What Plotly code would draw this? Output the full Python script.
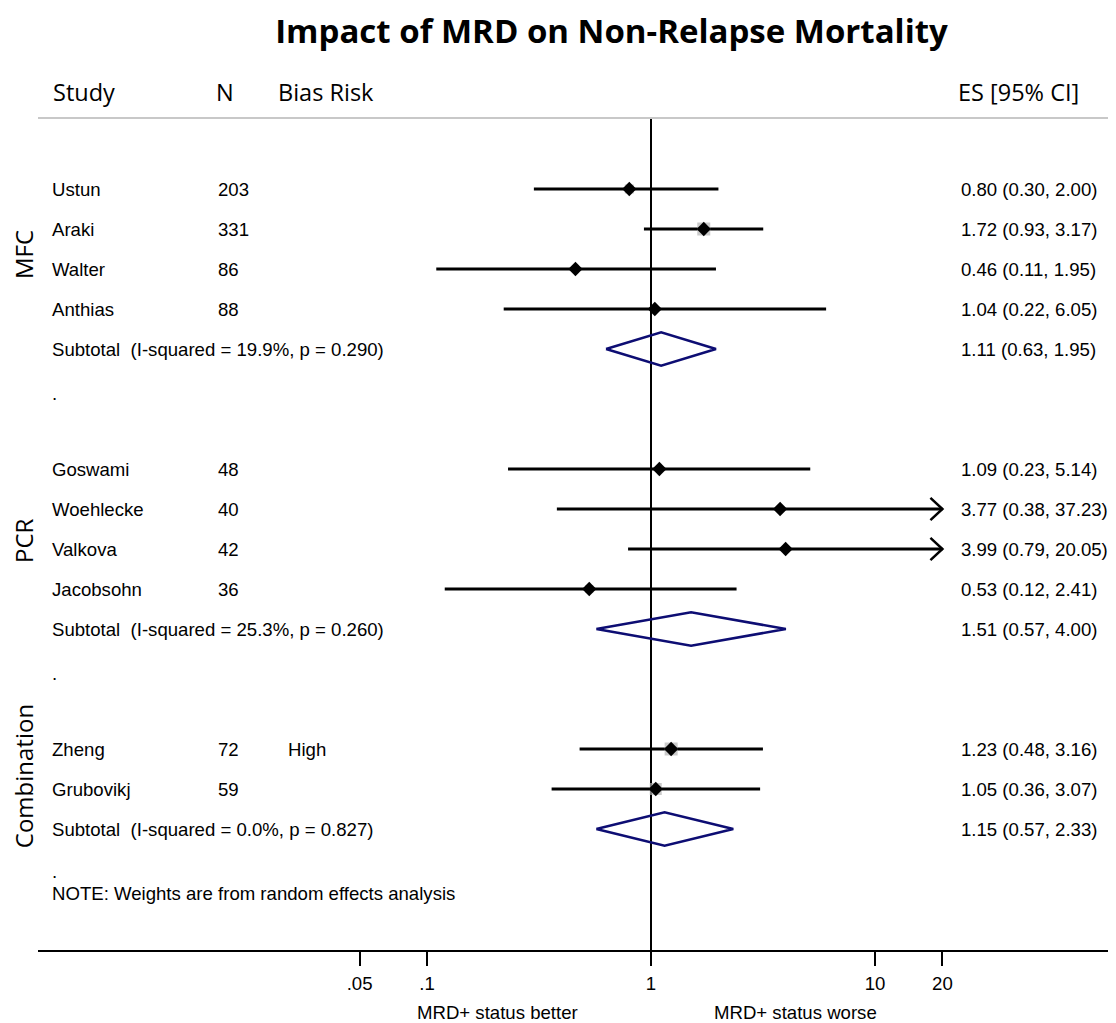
import plotly.graph_objects as go

# ---------------- data ----------------
studies = ["Ustun", "Araki", "Walter", "Anthias", "Goswami", "Woehlecke",
           "Valkova", "Jacobsohn", "Zheng", "Grubovikj"]
n_pat = [203, 331, 86, 88, 48, 40, 42, 36, 72, 59]
bias = ["", "", "", "", "", "", "", "", "High", ""]
es = [0.80, 1.72, 0.46, 1.04, 1.09, 3.77, 3.99, 0.53, 1.23, 1.05]
lo = [0.30, 0.93, 0.11, 0.22, 0.23, 0.38, 0.79, 0.12, 0.48, 0.36]
hi = [2.00, 3.17, 1.95, 6.05, 5.14, 37.23, 20.05, 2.41, 3.16, 3.07]
box_w = [9, 13, 5, 6, 6, 5, 6, 8, 13, 12]

groups = ["MFC", "PCR", "Combination"]
sub_es = [1.11, 1.51, 1.15]
sub_lo = [0.63, 0.57, 0.57]
sub_hi = [1.95, 4.00, 2.33]
sub_i2 = ["19.9%", "25.3%", "0.0%"]
sub_p = ["0.290", "0.260", "0.827"]

tick_vals = [0.05, 0.1, 1, 10, 20]
tick_text = [".05", ".1", "1", "10", "20"]
x_clip = 20

# ---------------- layout helpers ----------------
study_rows = [0, 1, 2, 3, 7, 8, 9, 10, 14, 15]
sub_rows = [4, 11, 16]
dot_rows = [5.1, 12.1, 17.05]
note_row = 17.6
group_label_rows = [1.65, 8.8, 14.68]

W_REF, H_REF = 1116, 1023
OFF = 8                      # page body margin
W, H = W_REF - OFF, H_REF - OFF
PL, PR, PT, PB = 38, 1110, 118, 950    # plot area in reference pixels
L, R, T, B = PL - OFF, W_REF - PR, PT - OFF, H_REF - PB
px_per_dec = 224.0
x1_px = 651
row0_px = 189
row_px = 40.0
xr = [(PL - x1_px) / px_per_dec, (PR - x1_px) / px_per_dec]
yr = [(PB - row0_px) / row_px, (PT - row0_px) / row_px]

def px2paper_x(p):
    return (p - PL) / (PR - PL)

def px2paper_y(p):
    return (PB - p) / (PB - PT)

BODY = "Liberation Sans, Arial, sans-serif"
HEAD = "Open Sans, sans-serif"
body_size = 18.6
NAVY = "#0d0d73"

fig = go.Figure()

# reference line at 1
fig.add_trace(go.Scatter(x=[1, 1], y=[yr[0], yr[1]], mode="lines",
                         line=dict(color="black", width=2), hoverinfo="skip",
                         showlegend=False, cliponaxis=False))

# CI lines + arrows
for i in range(len(studies)):
    y = study_rows[i]
    top = min(hi[i], x_clip)
    fig.add_trace(go.Scatter(x=[lo[i], top], y=[y, y], mode="lines",
                             line=dict(color="black", width=3),
                             hoverinfo="skip", showlegend=False))
    if hi[i] > x_clip:
        f = 10 ** (12 / px_per_dec)
        fig.add_trace(go.Scatter(x=[x_clip / f, x_clip, x_clip / f],
                                 y=[y - 0.28, y, y + 0.28], mode="lines",
                                 line=dict(color="black", width=2.5),
                                 hoverinfo="skip", showlegend=False,
                                 cliponaxis=False))

# weight boxes
fig.add_trace(go.Scatter(x=es, y=study_rows, mode="markers",
                         marker=dict(symbol="square", size=box_w, color="#b4b4b4",
                                     line=dict(width=0)),
                         hoverinfo="skip", showlegend=False))
# point estimates
fig.add_trace(go.Scatter(x=es, y=study_rows, mode="markers",
                         marker=dict(symbol="diamond", size=11, color="black",
                                     line=dict(width=0)),
                         showlegend=False))

# subtotal diamonds
for g in range(len(groups)):
    y = sub_rows[g]
    h = 0.42
    fig.add_trace(go.Scatter(x=[sub_lo[g], sub_es[g], sub_hi[g], sub_es[g], sub_lo[g]],
                             y=[y, y - h, y, y + h, y], mode="lines",
                             line=dict(color=NAVY, width=2.5),
                             hoverinfo="skip", showlegend=False))

ann = []

def txt(text, x, y, xref="paper", yref="y", size=body_size, font=BODY,
        xanchor="left", **kw):
    ann.append(dict(text=text, x=x, y=y, xref=xref, yref=yref, showarrow=False,
                    xanchor=xanchor, yanchor="middle",
                    font=dict(family=font, size=size, color="black"), **kw))

# study texts
for i in range(len(studies)):
    y = study_rows[i]
    txt(studies[i], px2paper_x(50), y)
    txt(str(n_pat[i]), px2paper_x(216), y)
    if bias[i]:
        txt(bias[i], px2paper_x(286), y)
    txt(f"{es[i]:.2f} ({lo[i]:.2f}, {hi[i]:.2f})", px2paper_x(959), y)

for g in range(len(groups)):
    y = sub_rows[g]
    txt(f"Subtotal  (I-squared = {sub_i2[g]}, p = {sub_p[g]})", px2paper_x(50), y)
    txt(f"{sub_es[g]:.2f} ({sub_lo[g]:.2f}, {sub_hi[g]:.2f})", px2paper_x(959), y)
    txt(".", px2paper_x(50), dot_rows[g])
    txt(groups[g], px2paper_x(23), group_label_rows[g], size=24, font=HEAD,
        xanchor="center", textangle=-90)

txt("NOTE: Weights are from random effects analysis", px2paper_x(50), note_row)

# headers
hy = px2paper_y(92)
txt("Study", px2paper_x(51), hy, yref="paper", size=23.5, font=HEAD)
txt("N", px2paper_x(214), hy, yref="paper", size=23.5, font=HEAD)
txt("Bias Risk", px2paper_x(276), hy, yref="paper", size=23.5, font=HEAD)
txt("ES [95% CI]", px2paper_x(1081), hy, yref="paper", size=23.5, font=HEAD,
    xanchor="right")

# axis titles
txt("MRD+ status better", px2paper_x(497), px2paper_y(1013), yref="paper",
    xanchor="center")
txt("MRD+ status worse", px2paper_x(795), px2paper_y(1013), yref="paper",
    xanchor="center")

shapes = [dict(type="line", xref="paper", yref="paper", x0=0, x1=1,
               y0=1.0, y1=1.0, line=dict(color="#c8c8c8", width=2))]

fig.update_layout(
    width=W, height=H,
    margin=dict(l=L, r=R, t=T, b=B),
    paper_bgcolor="white", plot_bgcolor="white",
    title=dict(text="<b>Impact of MRD on Non-Relapse Mortality</b>",
               x=(611.5 - OFF) / W, xanchor="center",
               y=1 - (31 - OFF) / H, yanchor="middle", yref="container",
               font=dict(family=HEAD, size=33, color="black")),
    xaxis=dict(type="log", range=xr, tickvals=tick_vals, ticktext=tick_text,
               showgrid=False, zeroline=False, showline=True, linecolor="black",
               linewidth=2, ticks="outside", ticklen=14, tickwidth=2,
               tickcolor="black", ticklabelstandoff=2,
               tickfont=dict(family=BODY, size=body_size, color="black")),
    yaxis=dict(range=yr, showgrid=False, zeroline=False, showline=False,
               showticklabels=False, ticks=""),
    annotations=ann, shapes=shapes, showlegend=False,
)

fig.write_html("out.html")
